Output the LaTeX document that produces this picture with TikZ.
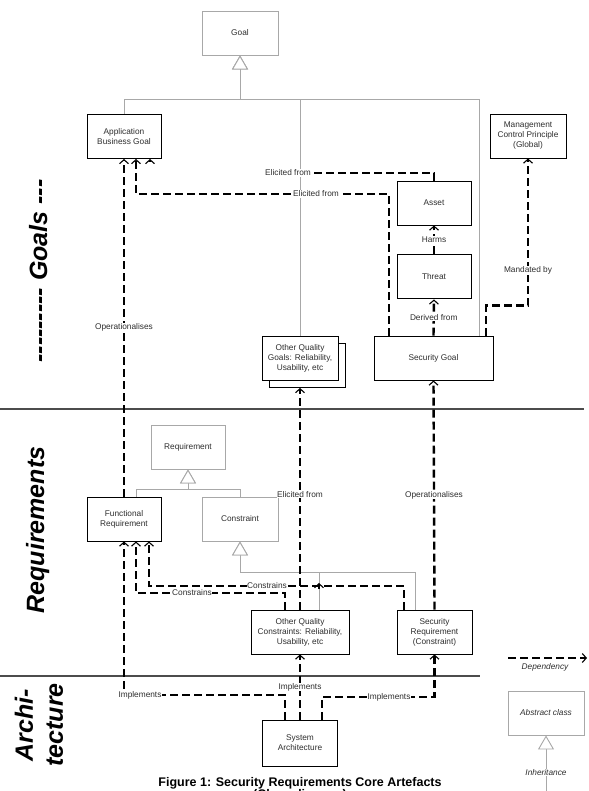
\documentclass[tikz,border=0pt]{standalone}
\usepackage{fontspec}
\setmainfont{Liberation Sans}
\newfontfamily\layerfont{Liberation Sans}[Ligatures=TeXOff]
\usepackage{tikz}
\usetikzlibrary{arrows.meta, positioning}
\definecolor{umlgray}{HTML}{A8A8A8}
\definecolor{txtgray}{HTML}{2E2E2E}
\tikzset{%
	cls/.style={draw, rectangle, line width=0.95pt, minimum width=74pt, minimum height=44pt,%
		inner sep=1pt, align=center, fill=white, text=txtgray, font=\fontsize{8.3}{10}\selectfont},
	abscls/.style={cls, draw=umlgray, line width=0.9pt},
	dep/.style={line width=2.4pt, dash pattern=on 8pt off 4pt,%
		-{Straight Barb[length=4pt, width=9pt, line width=1.1pt]}},
	inh/.style={draw=umlgray, line width=0.9pt,%
		-{Triangle[length=14pt, width=16pt, fill=white, line width=0.9pt]}},
	lbl/.style={fill=white, inner sep=0.6pt, text=txtgray, font=\fontsize{8.3}{10}\selectfont},
	layer/.style={rotate=90, align=center, font=\layerfont\fontsize{25}{30}\selectfont\bfseries\itshape},
	sep/.style={draw=black!70, line width=1.2pt}
}

\begin{document}
\begin{tikzpicture}[x=1pt, y=-1pt]
	\useasboundingbox (0,0) rectangle (588,791);

	\node[abscls, minimum width=76pt] (goal) at (240,33) {Goal};
	\node[cls] (app-goal) at (124,136.5) {Application\\Business Goal};
	\node[cls, minimum width=76pt] (mcp) at (528,136) {Management\\Control Principle\\(Global)};
	\node[cls] (asset) at (434,203) {Asset};
	\node[cls] (threat) [below=29pt of asset] {Threat};
	\node[cls, minimum width=119pt] (sec-goal) at (433.5,358) {Security Goal};
	\node[cls, minimum width=76pt] (oq-goal-b) at (307,365.5) {};
	\node[cls, minimum width=76pt] (oq-goal) at (300,358.5) {Other Quality\\Goals: Reliability,\\Usability, etc};

	\node[abscls] (req) at (188,447) {Requirement};
	\node[cls] (funcreq) at (124,519) {Functional\\Requirement};
	\node[abscls, minimum width=76pt] (constraint) at (240,519) {Constraint};
	\node[cls, minimum width=98pt] (oq-cons) at (300,632) {Other Quality\\Constraints: Reliability,\\Usability, etc};
	\node[cls, minimum width=75pt] (sec-req) at (434.5,632) {Security\\Requirement\\(Constraint)};
	\node[cls, minimum width=75pt, minimum height=46pt] (sys-arch) at (300,743) {System\\Architecture};

	\coordinate (goal-bus) at (240,99);
	\coordinate (req-bus) at (188,489);
	\coordinate (cons-bus) at (240,572);
	\draw[inh] (app-goal.north) |- (goal-bus) -- (goal.south);
	\draw[inh] (oq-goal.north) |- (goal-bus) -- (goal.south);
	\draw[inh] ([xshift=45.5pt]sec-goal.north) |- (goal-bus) -- (goal.south);
	\draw[inh] ([xshift=12pt]funcreq.north) |- (req-bus) -- (req.south);
	\draw[inh] (constraint.north) |- (req-bus) -- (req.south);
	\draw[inh] ([xshift=19pt]oq-cons.north) |- (cons-bus) -- (constraint.south);
	\draw[inh] ([xshift=-19.5pt]sec-req.north) |- (cons-bus) -- (constraint.south);

	\draw[sep] (0,409) -- (584,409);
	\draw[sep] (0,676) -- (480,676);

	\node[lbl] (elic-a) at (288,173) {Elicited from};
	\draw[dep, -] (asset.north) |- (elic-a.east);
	\coordinate (elic-a-stub) at (150,162);
	\draw[dep] (elic-a-stub) -- ([xshift=26pt]app-goal.south);
	\coordinate (elic-b) at (136,194);
	\draw[dep] ([xshift=-44.5pt]sec-goal.north) |- (elic-b) -- ([xshift=12pt]app-goal.south);
	\node[lbl] at (316,194) {Elicited from};

	\draw[dep] (threat.north) -- node[lbl]{Harms} (asset.south);
	\draw[dep] (sec-goal.north) -- node[lbl]{Derived from} (threat.south);
	\draw[dep] ([xshift=52.5pt]sec-goal.north) -- ++(0,-30) -| node[lbl, pos=0.62]{Mandated by} (mcp.south);
	\draw[dep] (funcreq.north) -- node[lbl]{Operationalises} (app-goal.south);
	\draw[dep] (sec-req.north) -- node[lbl]{Operationalises} (sec-goal.south);
	\draw[dep] (oq-cons.north) -- node[lbl, pos=0.52]{Elicited from} (oq-cons.north |- oq-goal-b.south);

	\coordinate (cons-a) at (149,586);
	\draw[dep] ([xshift=-30.5pt]sec-req.north) |- (cons-a) -- ([xshift=25pt]funcreq.south);
	\node[lbl] at (267,586) {Constrains};
	\coordinate (cons-b) at (136,593);
	\draw[dep] ([xshift=-15pt]oq-cons.north) |- (cons-b) -- ([xshift=12pt]funcreq.south);
	\node[lbl] at (192,593) {Constrains};
	\coordinate (cons-stub-a) at (319,589);
	\coordinate (cons-stub-b) at (319,583);
	\draw[dep] (cons-stub-a) -- (cons-stub-b);

	\coordinate (impl-a) at (124,695);
	\draw[dep] ([xshift=-15pt]sys-arch.north) |- (impl-a) -- (funcreq.south);
	\node[lbl] at (140,695) {Implements};
	\draw[dep] (sys-arch.north) -- node[lbl]{Implements} (oq-cons.south);
	\coordinate (impl-c) at (434.5,697);
	\draw[dep] ([xshift=22pt]sys-arch.north) |- (impl-c) -- (sec-req.south);
	\node[lbl] at (389,697) {Implements};

	\node[layer, anchor=base] (goals-lbl) at (47,271) {--------- Goals ---};
	\node[layer, anchor=base] (req-lbl) at (44,530) {Requirements};
	\node[layer] (arch-lbl) at (39,725) {Archi-\\tecture};

	\coordinate (dep-from) at (508,658);
	\coordinate (dep-to) at (587,658);
	\draw[dep] (dep-from) -- (dep-to);
	\node[lbl, font=\fontsize{8.3}{10}\selectfont\itshape] at (545,667) {Dependency};
	\node[abscls, minimum width=76pt, font=\fontsize{8.3}{10}\selectfont\itshape] (abstract) at (546,713) {Abstract class};
	\coordinate (inh-from) at (546,795);
	\draw[inh] (inh-from) -- node[lbl, pos=0.38, font=\fontsize{8.3}{10}\selectfont\itshape]{Inheritance} (abstract.south);

	\node[anchor=base, font=\fontsize{12.5}{15}\selectfont\bfseries] (caption) at (300,786) {Figure 1: Security Requirements Core Artefacts};
	\node[anchor=base, font=\fontsize{12.5}{15}\selectfont\bfseries] (caption-2) at (300,798) {(Class diagram)};
\end{tikzpicture}
\end{document}
